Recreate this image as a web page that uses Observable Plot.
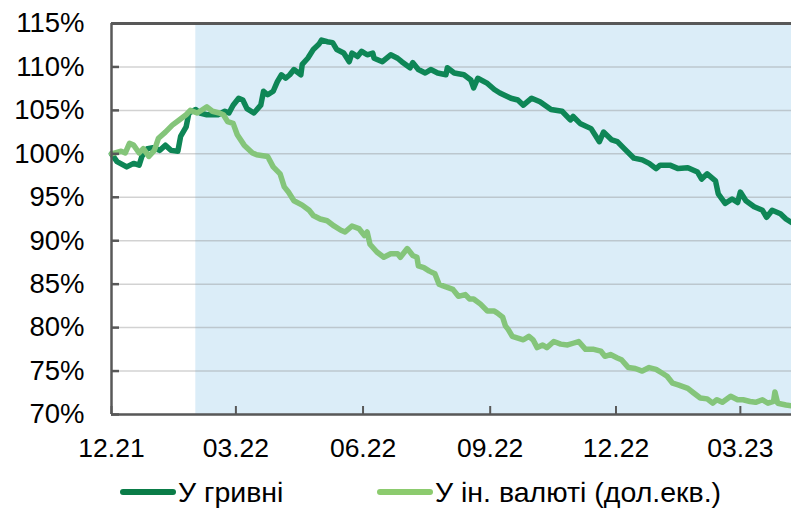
<!DOCTYPE html>
<html>
<head>
<meta charset="utf-8">
<script src="https://cdn.jsdelivr.net/npm/d3@7"></script>
<script src="https://cdn.jsdelivr.net/npm/@observablehq/plot@0.6"></script>
<style>
  html, body { margin: 0; padding: 0; background: #fff; }
  #wrap { position: relative; width: 791px; height: 509px; overflow: hidden; font-family: "Liberation Sans", Arial, sans-serif; }
  .lg { position: absolute; top: 477px; height: 30px; display: flex; align-items: center; font-size: 28.5px; line-height: 1; color: #000; white-space: nowrap; }
  .sw { width: 56px; height: 6px; border-radius: 3px; margin-right: 2px; }
</style>
</head>
<body>
<div id="wrap"></div>
<script>
// ---- data (days since 01.12.2021, % index) ----
const seriesNames = ["У гривні", "У ін. валюті (дол.екв.)"];
const seriesColors = ["#0e8656", "#84c57a"];

const darkDays = [0,4,11,16,20,22,26,30,35,39,43,48,50,54,56,61,64,69,77,82,85,88,92,95,98,103,108,110,113,117,120,123,126,129,132,137,138,142,146,150,152,156,160,163,168,172,174,178,181,185,189,190,196,202,207,210,216,218,222,227,231,236,242,243,248,255,260,262,265,272,277,281,289,294,298,304,310,318,326,332,334,339,347,353,356,362,366,371,378,384,389,394,397,404,410,417,424,427,431,437,439,444,449,453,455,459,465,471,474,478,484,488,492];
const darkVals = [100.0,99.1,98.5,98.9,98.7,99.7,100.6,100.7,100.4,101.0,100.4,100.3,102.0,103.1,104.7,105.1,104.7,104.5,104.5,104.9,104.7,105.6,106.4,106.2,105.2,104.7,105.6,107.2,106.8,107.2,108.3,109.1,108.7,109.1,109.7,109.1,110.3,111.0,112.0,112.6,113.1,112.9,112.8,112.0,111.6,110.6,111.6,111.2,111.8,111.4,111.6,111.0,110.6,111.4,111.0,110.6,109.9,110.5,109.7,109.3,109.7,109.3,109.1,109.9,109.3,109.1,108.5,107.6,108.7,108.1,107.4,107.0,106.4,106.2,105.6,106.4,106.0,105.1,104.9,103.9,104.3,103.5,102.9,101.4,102.5,101.6,101.4,100.6,99.5,99.3,98.9,98.3,98.7,98.7,98.3,98.4,97.9,97.1,97.7,96.9,95.4,94.3,94.8,94.4,95.6,94.6,93.9,93.5,92.7,93.5,93.1,92.5,92.1];

const lightDays = [0,7,10,13,16,20,23,27,31,34,39,44,49,54,57,62,66,69,73,78,81,84,88,91,96,102,105,113,117,122,125,128,132,138,143,146,151,156,161,166,169,174,179,183,185,187,192,197,202,207,209,214,218,221,222,226,230,234,237,240,247,251,256,259,262,267,272,277,279,283,285,287,290,294,298,302,305,308,312,315,320,325,330,334,338,343,349,354,357,361,366,369,374,379,384,389,394,398,402,406,410,417,421,426,431,435,438,442,448,453,457,462,466,471,475,479,480,482,488,492];
const lightVals = [100.0,100.3,100.1,101.2,101.0,100.1,100.6,99.7,100.4,101.8,102.5,103.3,103.9,104.5,105.0,104.7,105.1,105.4,104.9,104.7,104.5,103.7,103.5,102.2,101.0,100.1,99.9,99.7,98.5,97.7,96.2,95.6,94.6,94.1,93.5,92.9,92.5,92.3,91.7,91.2,91.0,91.7,91.4,90.6,91.0,89.6,88.7,88.1,88.5,88.5,88.1,89.1,88.3,88.1,87.1,86.9,86.5,86.2,85.0,84.8,84.4,83.6,83.8,83.3,83.3,82.7,81.9,81.9,81.7,81.2,80.2,79.8,79.0,78.8,78.6,79.0,78.6,77.7,78.0,77.7,78.4,78.1,78.0,78.2,78.4,77.5,77.5,77.3,76.7,76.9,76.5,76.3,75.4,75.3,75.0,75.4,75.2,74.8,74.4,73.6,73.4,73.0,72.5,71.9,71.8,71.3,71.7,71.4,72.1,71.7,71.7,71.5,71.4,71.7,71.3,71.5,72.6,71.3,71.1,71.0];

const yTicks = [70, 75, 80, 85, 90, 95, 100, 105, 110, 115];
const xTickDates = ["2021-12-01", "2022-03-01", "2022-06-01", "2022-09-01", "2022-12-01", "2023-03-01"];
const xTickLabels = ["12.21", "03.22", "06.22", "09.22", "12.22", "03.23"];
const domainEndDay = 492;
const shadeStartDay = 61;

// ---- build ----
const t0 = Date.UTC(2021, 11, 1);
const toDate = d => new Date(t0 + d * 864e5);
const mk = (days, vals, s) => days.map((d, i) => ({date: toDate(d), value: vals[i], series: s}));
const dark = mk(darkDays, darkVals, seriesNames[0]);
const light = mk(lightDays, lightVals, seriesNames[1]);
const xTicks = xTickDates.map(s => new Date(s + "T00:00:00Z"));
const labelMap = new Map(xTicks.map((d, i) => [+d, xTickLabels[i]]));
const xStart = toDate(0), xEnd = toDate(domainEndDay);
const axisColor = "#585858";

const chart = Plot.plot({
  width: 791,
  height: 460,
  marginLeft: 111,
  marginRight: 0,
  marginTop: 23,
  marginBottom: 46,
  style: {fontFamily: '"Liberation Sans", Arial, sans-serif', fontSize: "27px", color: "#000", background: "transparent", overflow: "visible"},
  x: {type: "utc", domain: [xStart, xEnd], label: null},
  y: {domain: [70, 115], label: null},
  marks: [
    Plot.rect([{a: toDate(shadeStartDay), b: xEnd}], {x1: "a", x2: "b", fill: "#dbedf8"}),
    Plot.gridY(yTicks, {stroke: "#8a8a8a", strokeOpacity: 0.38, strokeWidth: 1.5}),
    Plot.line(dark, {x: "date", y: "value", stroke: seriesColors[0], strokeWidth: 5.5, strokeLinejoin: "round", strokeLinecap: "round"}),
    Plot.line(light, {x: "date", y: "value", stroke: seriesColors[1], strokeWidth: 5.5, strokeLinejoin: "round", strokeLinecap: "round"}),
    Plot.ruleY([115], {stroke: axisColor, strokeWidth: 3}),
    Plot.ruleY([70], {stroke: axisColor, strokeWidth: 2.5}),
    Plot.ruleX([xStart], {stroke: axisColor, strokeWidth: 2.5}),
    Plot.axisY({ticks: yTicks, tickSize: 8, tickFormat: () => "", dx: 8, stroke: axisColor, strokeWidth: 2.5, label: null}),
    Plot.axisY({ticks: yTicks, tickSize: 0, tickPadding: 27, tickFormat: d => d + "%", fontSize: 27.5, fill: "#000", label: null}),
    Plot.axisX({ticks: xTicks, tickSize: 8, tickFormat: () => "", dy: -8, stroke: axisColor, strokeWidth: 2, label: null}),
    Plot.axisX({ticks: xTicks, tickSize: 0, tickPadding: 24, tickFormat: d => labelMap.get(+d), fontSize: 26.5, fill: "#000", label: null})
  ]
});

const wrap = document.getElementById("wrap");
wrap.appendChild(chart);

const legendPos = [120, 377];
seriesNames.forEach((name, i) => {
  const item = document.createElement("div");
  item.className = "lg";
  item.style.left = legendPos[i] + "px";
  const sw = document.createElement("div");
  sw.className = "sw";
  sw.style.background = i === 0 ? "#0a7c48" : "#8ccb6e";
  const tx = document.createElement("span");
  tx.textContent = name;
  item.appendChild(sw);
  item.appendChild(tx);
  wrap.appendChild(item);
});
</script>
</body>
</html>
